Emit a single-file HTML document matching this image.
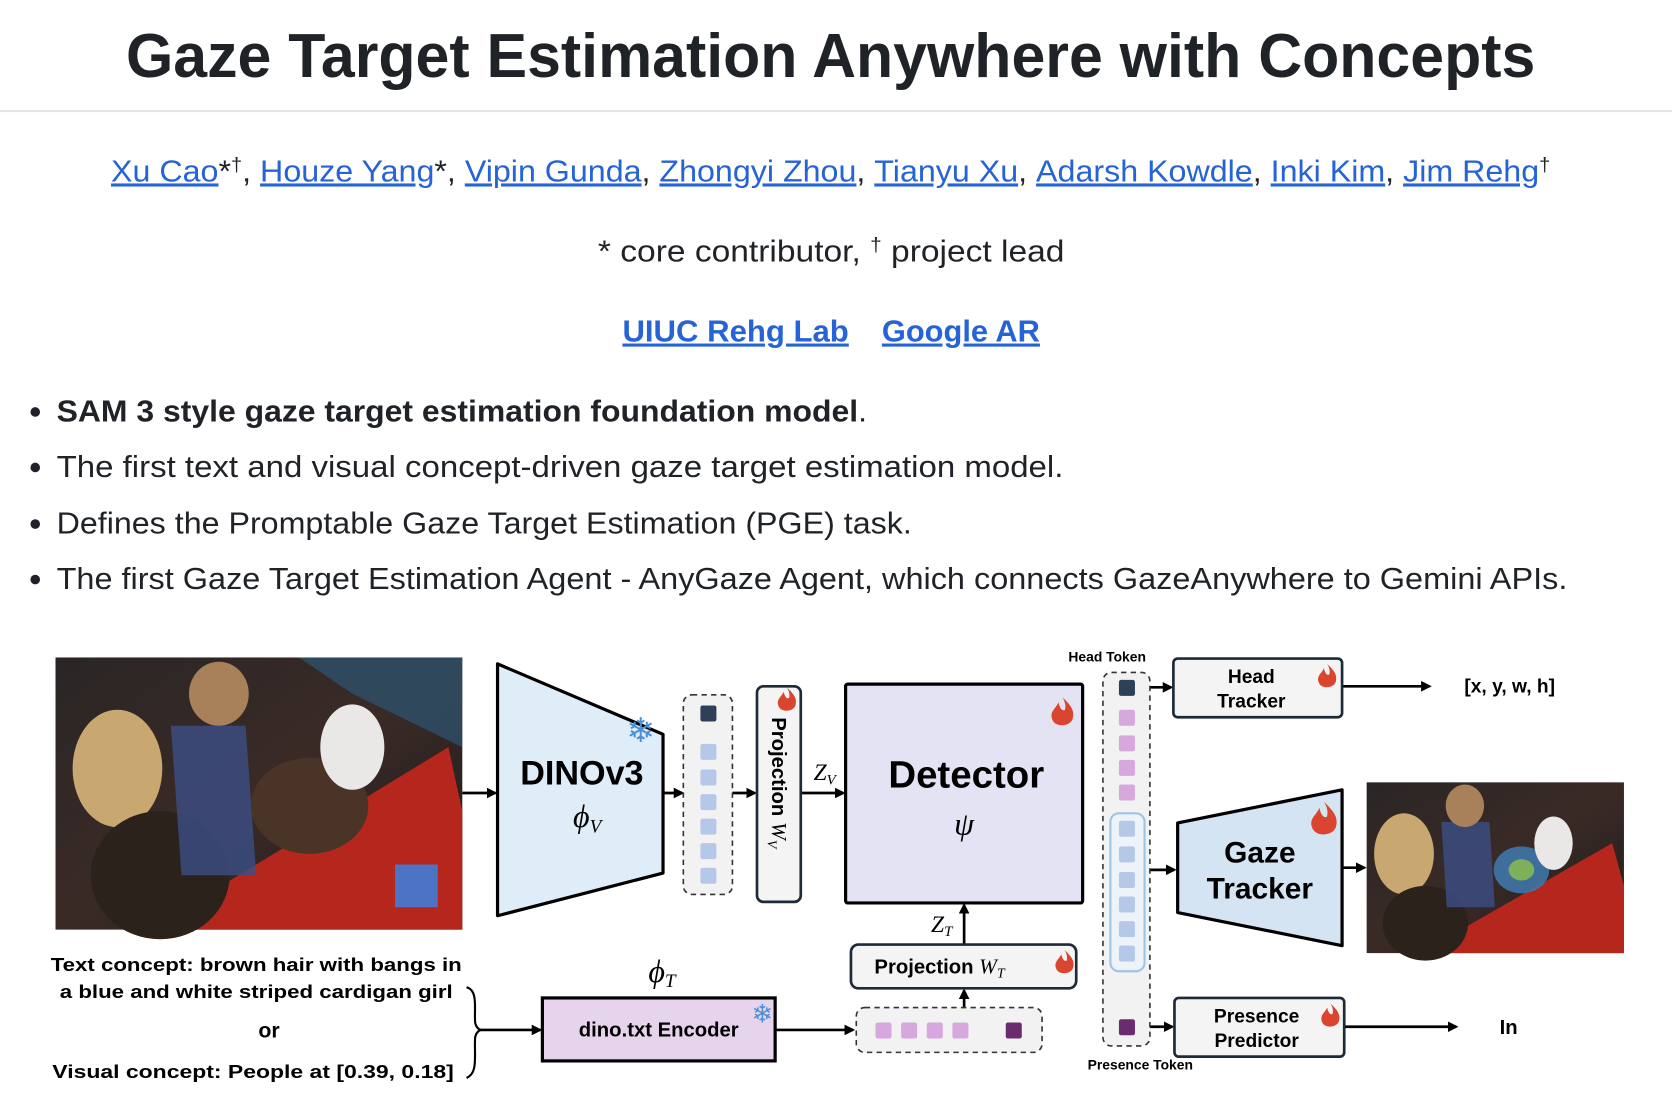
<!DOCTYPE html>
<html><head><meta charset="utf-8"><style>
html,body{margin:0;padding:0;background:#fff;}
svg{display:block;}
.t{font-family:"Liberation Sans",sans-serif;}
.d{font-family:"Liberation Sans",sans-serif;font-weight:bold;}
.m{font-family:"Liberation Serif",serif;font-style:italic;}
</style></head><body>
<svg width="1672" height="1110" viewBox="0 0 1566 1040" preserveAspectRatio="none" xmlns="http://www.w3.org/2000/svg">
<defs>
<marker id="ar" markerWidth="10" markerHeight="10" refX="8" refY="5" orient="auto" markerUnits="userSpaceOnUse"><path d="M0,0 L10,5 L0,10 z" fill="#000"/></marker>
<g id="fl"><path d="M0,-12 C6,-6 10,-2 8,5 C6,11 -6,12 -8,5 C-10,-1 -5,-3 -3,-8 C-2,-3 0,-1 2,-2 C3,-5 2,-9 0,-12z" fill="#d9452e"/></g>
<linearGradient id="ph" x1="0" y1="0" x2="1" y2="1"><stop offset="0" stop-color="#2a2626"/><stop offset="0.5" stop-color="#3a2a26"/><stop offset="1" stop-color="#1c1a1c"/></linearGradient>
</defs>

<text class="t" x="118" y="72" font-size="58" font-weight="bold" fill="#1f2328" textLength="1320" lengthAdjust="spacingAndGlyphs">Gaze Target Estimation Anywhere with Concepts</text>
<line x1="0" y1="104" x2="1566" y2="104" stroke="#e2e4e8" stroke-width="2"/>

<text class="t" x="104" y="170" font-size="29" fill="#1f2328" textLength="1348" lengthAdjust="spacingAndGlyphs"><tspan fill="#2563d6" text-decoration="underline">Xu Cao</tspan>*<tspan font-size="18" dy="-10">†</tspan><tspan dy="10">, </tspan><tspan fill="#2563d6" text-decoration="underline">Houze Yang</tspan>*, <tspan fill="#2563d6" text-decoration="underline">Vipin Gunda</tspan>, <tspan fill="#2563d6" text-decoration="underline">Zhongyi Zhou</tspan>, <tspan fill="#2563d6" text-decoration="underline">Tianyu Xu</tspan>, <tspan fill="#2563d6" text-decoration="underline">Adarsh Kowdle</tspan>, <tspan fill="#2563d6" text-decoration="underline">Inki Kim</tspan>, <tspan fill="#2563d6" text-decoration="underline">Jim Rehg</tspan><tspan font-size="18" dy="-10">†</tspan></text>

<text class="t" x="560" y="245" font-size="29" fill="#1f2328" textLength="437" lengthAdjust="spacingAndGlyphs">* core contributor, <tspan font-size="18" dy="-10">†</tspan><tspan dy="10"> project lead</tspan></text>

<text class="t" x="583" y="320" font-size="29" font-weight="bold" fill="#2563d6" text-decoration="underline" textLength="212" lengthAdjust="spacingAndGlyphs">UIUC Rehg Lab</text>
<text class="t" x="826" y="320" font-size="29" font-weight="bold" fill="#2563d6" text-decoration="underline" textLength="148" lengthAdjust="spacingAndGlyphs">Google AR</text>

<g fill="#1f2328">
<circle cx="33" cy="386" r="4.5"/><circle cx="33" cy="438" r="4.5"/><circle cx="33" cy="491" r="4.5"/><circle cx="33" cy="543" r="4.5"/>
</g>
<text class="t" x="53" y="395" font-size="29" fill="#1f2328" textLength="759" lengthAdjust="spacingAndGlyphs"><tspan font-weight="bold">SAM 3 style gaze target estimation foundation model</tspan>.</text>
<text class="t" x="53" y="447" font-size="29" fill="#1f2328" textLength="943" lengthAdjust="spacingAndGlyphs">The first text and visual concept-driven gaze target estimation model.</text>
<text class="t" x="53" y="500" font-size="29" fill="#1f2328" textLength="801" lengthAdjust="spacingAndGlyphs">Defines the Promptable Gaze Target Estimation (PGE) task.</text>
<text class="t" x="53" y="552" font-size="29" fill="#1f2328" textLength="1415" lengthAdjust="spacingAndGlyphs">The first Gaze Target Estimation Agent - AnyGaze Agent, which connects GazeAnywhere to Gemini APIs.</text>

<!-- Photo 1 -->
<rect x="52" y="616" width="381" height="255" fill="url(#ph)"/>
<path d="M140,871 L420,700 L433,760 L433,871z" fill="#b5261c"/>
<ellipse cx="110" cy="720" rx="42" ry="55" fill="#c9a771"/>
<ellipse cx="150" cy="820" rx="65" ry="60" fill="#2b221c"/>
<path d="M160,680 L230,680 L240,820 L170,820z" fill="#3c4f86" opacity="0.8"/>
<ellipse cx="205" cy="650" rx="28" ry="30" fill="#a8805a"/>
<ellipse cx="290" cy="755" rx="55" ry="45" fill="#4a3428"/>
<ellipse cx="330" cy="700" rx="30" ry="40" fill="#eae8e6"/>
<path d="M280,616 L433,616 L433,700 L330,650z" fill="#2c5e80" opacity="0.6"/>
<rect x="370" y="810" width="40" height="40" fill="#4d74c4"/>

<g stroke="#000" stroke-width="2.5" fill="none" marker-end="url(#ar)">
<line x1="433" y1="743" x2="464" y2="743"/>
<line x1="621" y1="743" x2="639" y2="743"/>
<line x1="686" y1="743" x2="707" y2="743"/>
<line x1="750" y1="743" x2="790" y2="743"/>
<line x1="903" y1="885" x2="903" y2="848"/>
<line x1="903" y1="944" x2="903" y2="928"/>
<line x1="726" y1="965" x2="799" y2="965"/>
<line x1="450" y1="965" x2="506" y2="965"/>
<line x1="1062" y1="644" x2="1097" y2="644"/>
<line x1="1075" y1="815" x2="1100" y2="815"/>
<line x1="1062" y1="962" x2="1098" y2="962"/>
<line x1="1257" y1="643" x2="1339" y2="643"/>
<line x1="1257" y1="813" x2="1278" y2="813"/>
<line x1="1259" y1="962" x2="1364" y2="962"/>
</g>

<path d="M466,622 L621,688 L621,818 L466,858z" fill="#deedf7" stroke="#000" stroke-width="3" stroke-linejoin="round"/>
<text class="d" x="545" y="735" font-size="32" text-anchor="middle">DINOv3</text>
<text class="m" x="550" y="775" font-size="30" text-anchor="middle">ϕ<tspan font-size="18" dy="5">V</tspan></text>
<text x="600" y="695" font-size="32" fill="#4a8fd8" text-anchor="middle" font-family="DejaVu Sans">❄</text>

<rect x="640" y="651" width="46" height="187" rx="8" fill="#f2f2f2" stroke="#333" stroke-width="1.5" stroke-dasharray="5,4"/>
<rect x="656" y="661" width="15" height="15" rx="2" fill="#2d4058"/>
<g fill="#b6c8e8">
<rect x="656" y="697" width="15" height="15" rx="2"/><rect x="656" y="721" width="15" height="15" rx="2"/><rect x="656" y="744" width="15" height="15" rx="2"/><rect x="656" y="767" width="15" height="15" rx="2"/><rect x="656" y="790" width="15" height="15" rx="2"/><rect x="656" y="813" width="15" height="15" rx="2"/>
</g>

<rect x="709" y="643" width="41" height="202" rx="6" fill="#f4f4f4" stroke="#1e2a38" stroke-width="2.5"/>
<use href="#fl" x="737" y="656"/>
<text class="d" x="0" y="0" font-size="19" transform="translate(723,672) rotate(90)">Projection <tspan class="m" font-weight="normal" font-size="20">W</tspan><tspan class="m" font-weight="normal" font-size="13" dy="4">V</tspan></text>
<text class="m" x="762" y="731" font-size="22">Z<tspan font-size="14" dy="4">V</tspan></text>

<rect x="792" y="641" width="222" height="205" rx="2" fill="#e3e3f4" stroke="#000" stroke-width="3"/>
<use href="#fl" x="995" y="668" transform="translate(-199,-134) scale(1.2)"/>
<text class="d" x="905" y="738" font-size="36" text-anchor="middle">Detector</text>
<text class="m" x="903" y="782" font-size="30" text-anchor="middle">ψ</text>
<text class="m" x="872" y="873" font-size="22">Z<tspan font-size="14" dy="4">T</tspan></text>

<rect x="797" y="885" width="211" height="41" rx="7" fill="#f4f4f4" stroke="#1e2a38" stroke-width="2.5"/>
<text class="d" x="880" y="912" font-size="19" text-anchor="middle">Projection <tspan class="m" font-weight="normal" font-size="20">W</tspan><tspan class="m" font-weight="normal" font-size="13" dy="4">T</tspan></text>
<use href="#fl" x="997" y="902"/>

<text class="m" x="620" y="920" font-size="30" text-anchor="middle">ϕ<tspan font-size="18" dy="5">T</tspan></text>
<rect x="508" y="935" width="218" height="59" fill="#e6d3ec" stroke="#000" stroke-width="3"/>
<text class="d" x="617" y="971" font-size="19" text-anchor="middle">dino.txt Encoder</text>
<text x="714" y="958" font-size="24" fill="#4a8fd8" text-anchor="middle" font-family="DejaVu Sans">❄</text>

<rect x="802" y="944" width="174" height="42" rx="8" fill="#f2f2f2" stroke="#333" stroke-width="1.5" stroke-dasharray="5,4"/>
<g fill="#d7a8de"><rect x="820" y="958" width="15" height="15" rx="2"/><rect x="844" y="958" width="15" height="15" rx="2"/><rect x="868" y="958" width="15" height="15" rx="2"/><rect x="892" y="958" width="15" height="15" rx="2"/></g>
<rect x="942" y="958" width="15" height="15" rx="2" fill="#6a2c6e"/>

<g class="d" font-size="17" text-anchor="middle">
<text x="240" y="910" textLength="385" lengthAdjust="spacingAndGlyphs">Text concept: brown hair with bangs in</text>
<text x="240" y="935" textLength="368" lengthAdjust="spacingAndGlyphs">a blue and white striped cardigan girl</text>
<text x="252" y="972" font-size="20">or</text>
<text x="237" y="1010" textLength="376" lengthAdjust="spacingAndGlyphs">Visual concept: People at [0.39, 0.18]</text>
</g>
<path d="M437,925 C448,928 444,945 445,958 C446,963 449,965 451,965 C449,965 446,967 445,972 C444,990 448,1005 437,1010" fill="none" stroke="#000" stroke-width="2"/>

<text class="d" x="1037" y="620" font-size="13" text-anchor="middle">Head Token</text>
<rect x="1033" y="630" width="44" height="350" rx="8" fill="#f2f2f2" stroke="#333" stroke-width="1.5" stroke-dasharray="5,4"/>
<rect x="1048" y="637" width="15" height="15" rx="2" fill="#2d4058"/>
<g fill="#d7a8de"><rect x="1048" y="665" width="15" height="15" rx="2"/><rect x="1048" y="689" width="15" height="15" rx="2"/><rect x="1048" y="712" width="15" height="15" rx="2"/><rect x="1048" y="735" width="15" height="15" rx="2"/></g>
<rect x="1040" y="762" width="32" height="148" rx="8" fill="#eef3fa" stroke="#9cc4e6" stroke-width="2"/>
<g fill="#b6c8e8"><rect x="1048" y="769" width="15" height="15" rx="2"/><rect x="1048" y="793" width="15" height="15" rx="2"/><rect x="1048" y="817" width="15" height="15" rx="2"/><rect x="1048" y="840" width="15" height="15" rx="2"/><rect x="1048" y="863" width="15" height="15" rx="2"/><rect x="1048" y="886" width="15" height="15" rx="2"/></g>
<rect x="1048" y="955" width="15" height="15" rx="2" fill="#6a2c6e"/>
<text class="d" x="1068" y="1002" font-size="13" text-anchor="middle">Presence Token</text>

<rect x="1099" y="617" width="158" height="55" rx="4" fill="#f4f4f4" stroke="#1e2a38" stroke-width="2.5"/>
<text class="d" x="1172" y="640" font-size="18" text-anchor="middle">Head</text>
<text class="d" x="1172" y="663" font-size="18" text-anchor="middle">Tracker</text>
<use href="#fl" x="1243" y="634"/>
<text class="d" x="1414" y="649" font-size="18" text-anchor="middle">[x, y, w, h]</text>

<path d="M1103,771 L1257,740 L1257,886 L1103,855z" fill="#d5e4f3" stroke="#000" stroke-width="3" stroke-linejoin="round"/>
<text class="d" x="1180" y="808" font-size="28" text-anchor="middle">Gaze</text>
<text class="d" x="1180" y="842" font-size="28" text-anchor="middle">Tracker</text>
<use href="#fl" x="0" y="0" transform="translate(1240,768) scale(1.4)"/>

<rect x="1280" y="733" width="241" height="160" fill="url(#ph)"/>
<path d="M1330,893 L1510,790 L1521,830 L1521,893z" fill="#b5261c"/>
<ellipse cx="1315" cy="800" rx="28" ry="38" fill="#c9a771"/>
<ellipse cx="1335" cy="865" rx="40" ry="35" fill="#2b221c"/>
<path d="M1350,770 L1395,770 L1400,850 L1355,850z" fill="#3c4f86" opacity="0.8"/>
<ellipse cx="1372" cy="755" rx="18" ry="20" fill="#a8805a"/>
<ellipse cx="1425" cy="815" rx="26" ry="22" fill="#3f7ab0" opacity="0.85"/>
<ellipse cx="1425" cy="815" rx="12" ry="10" fill="#8fbf4a" opacity="0.8"/>
<ellipse cx="1455" cy="790" rx="18" ry="25" fill="#eae8e6"/>

<rect x="1100" y="935" width="159" height="55" rx="4" fill="#f4f4f4" stroke="#1e2a38" stroke-width="2.5"/>
<text class="d" x="1177" y="958" font-size="18" text-anchor="middle">Presence</text>
<text class="d" x="1177" y="981" font-size="18" text-anchor="middle">Predictor</text>
<use href="#fl" x="1246" y="952"/>
<text class="d" x="1413" y="969" font-size="19" text-anchor="middle">In</text>
</svg>
</body></html>
